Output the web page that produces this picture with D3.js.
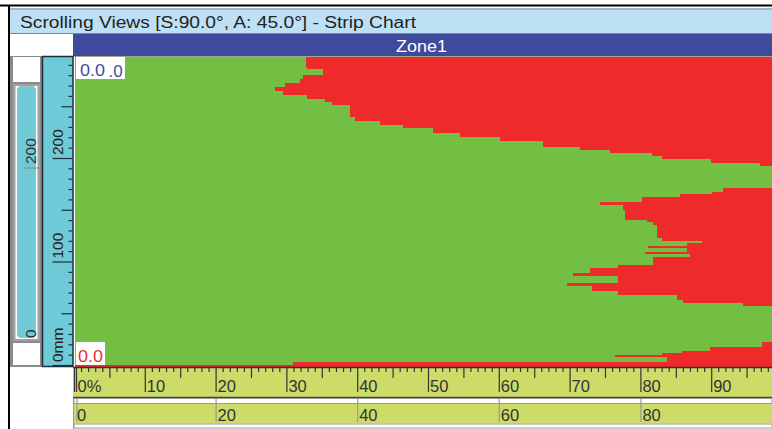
<!DOCTYPE html>
<html><head><meta charset="utf-8">
<script src="https://cdn.jsdelivr.net/npm/d3@7"></script>
<style>
html,body{margin:0;padding:0;background:#fff;overflow:hidden}
text{font-family:"Liberation Sans",Arial,sans-serif}
</style></head>
<body>
<svg id="c" width="772" height="429"></svg>
<script>
// ---- data ----
const title = "Scrolling Views [S:90.0°, A: 45.0°] - Strip Chart";
const zoneName = "Zone1";
// scan-axis edges (mm), top to bottom; row i spans scanEdges[i]..scanEdges[i+1]
const scanEdges = [297.6, 287.9, 286.0, 280.2, 276.3, 272.5, 268.6, 264.7, 260.9, 257.0,
  254.1, 251.2, 239.6, 235.7, 231.9, 229.0, 224.2, 220.3, 216.4, 210.6,
  207.7, 204.8, 201.9, 199.0, 195.2, 192.3, 171.0, 167.1, 165.2, 162.3,
  157.5, 154.6, 149.8, 140.1, 138.2, 135.3, 122.7, 119.8, 117.9, 115.0,
  113.0, 109.2, 107.2, 104.3, 96.6, 93.7, 88.9, 86.0, 79.2, 76.3,
  71.5, 67.6, 62.8, 59.9, 57.0, 22.2, 17.4, 13.5, 11.6, 9.7,
  7.7, 2.9, 0, -1.9];
// % position where the red (above threshold) region begins in each row; null = none
const redStart = [32.8, 32.9, 35.2, 32.3, 31.9, 29.8, 28.4, 29.5, 32.9, 35.5,
  36.4, 39.0, 39.7, 43.2, 46.5, 50.7, 54.5, 60.2, 66.2, 71.5,
  75.7, 81.6, 83.1, 90.0, 96.9, null, 91.7, 90.1, 85.6, 80.2,
  74.3, 77.5, 77.8, 80.9, 81.8, 82.3, 83.1, 88.7, 86.6, 81.1,
  86.6, 80.6, 87.0, 81.8, 76.8, 72.9, 70.5, 76.8, 69.6, 73.2,
  76.8, 85.2, 86.0, 94.5, null, 97.2, 89.8, 85.9, 83.1, 76.4,
  83.8, 30.9, 0];
const pctTicks = [0, 10, 20, 30, 40, 50, 60, 70, 80, 90];
const pctLabels = ["0%", "10", "20", "30", "40", "50", "60", "70", "80", "90"];
const indexTicks = [0, 20, 40, 60, 80];
const scanLabelTicks = [0, 100, 200];
const scanLabels = ["0mm", "100", "200"];
const scrollLabelTicks = [0, 200];
const cursorTop = "0.0";
const cursorTopSuffix = ".0";
const cursorBottom = "0.0";

// ---- colors ----
const C = {green:"#72bf44", red:"#ee2a2a", band:"#cddc68", cyan:"#6ecad6", titleBg:"#bde0f5",
  zone:"#3f4a9c", dark:"#1e2e3a", grey:"#8a8a8a"};

const svg = d3.select("#c");
const L = 75, R = 772, T = 56.5, B = 367;
const x = d3.scaleLinear().domain([0, 100]).range([74, 782]);
const y = d3.scaleLinear().domain([0, 300]).range([365, 54.5]);

// frame
svg.append("rect").attr("x",0).attr("y",0).attr("width",772).attr("height",429).attr("fill","#fff");
svg.append("rect").attr("x",10).attr("y",8).attr("width",762).attr("height",26).attr("fill",C.titleBg);
svg.append("line").attr("x1",10).attr("x2",772).attr("y1",9).attr("y2",9).attr("stroke","#9aa8b2").attr("stroke-width",1.5);
svg.append("line").attr("x1",10).attr("x2",772).attr("y1",33.5).attr("y2",33.5).attr("stroke","#6f86b8").attr("stroke-width",1);
svg.append("line").attr("x1",0).attr("x2",772).attr("y1",5.5).attr("y2",5.5).attr("stroke","#000").attr("stroke-width",2);
svg.append("line").attr("x1",9).attr("x2",9).attr("y1",5).attr("y2",429).attr("stroke","#000").attr("stroke-width",2);
svg.append("text").attr("x",20).attr("y",28).attr("font-size",16).attr("fill","#222")
  .attr("textLength",396).attr("lengthAdjust","spacingAndGlyphs").text(title);

// zone bar
svg.append("rect").attr("x",73).attr("y",34).attr("width",R-73).attr("height",22).attr("fill",C.zone);
svg.append("line").attr("x1",73).attr("x2",R).attr("y1",56).attr("y2",56).attr("stroke","#6b3a40").attr("stroke-width",1.2);
svg.append("text").attr("x",396).attr("y",51.5).attr("font-size",16.5).attr("fill","#fff")
  .attr("textLength",51).attr("lengthAdjust","spacingAndGlyphs").text(zoneName);

// plot
const defs = svg.append("defs");
defs.append("clipPath").attr("id","pc").append("rect").attr("x",L).attr("y",T).attr("width",R-L).attr("height",B-T);
const plot = svg.append("g").attr("clip-path","url(#pc)");
plot.append("rect").attr("x",L).attr("y",T).attr("width",R-L).attr("height",B-T).attr("fill",C.green);
const rows = redStart.map((v,i)=>({v, top:scanEdges[i], bot:scanEdges[i+1]})).filter(d=>d.v!==null);
plot.selectAll("rect.row").data(rows).enter().append("rect").attr("class","row")
  .attr("x",d=>Math.max(L, x(d.v)))
  .attr("y",d=>y(d.top))
  .attr("width",d=>R - Math.max(L, x(d.v)))
  .attr("height",d=>y(d.bot)-y(d.top))
  .attr("fill",C.red).attr("shape-rendering","crispEdges");

// cursor value boxes
svg.append("rect").attr("x",76).attr("y",57).attr("width",49).attr("height",22).attr("fill","#fff");
svg.append("text").attr("x",80).attr("y",76).attr("font-size",17).attr("fill","#3b4fa6")
  .attr("textLength",25).attr("lengthAdjust","spacingAndGlyphs").text(cursorTop);
svg.append("text").attr("x",108.5).attr("y",76.5).attr("font-size",17).attr("fill","#3b4fa6").text(cursorTopSuffix);
svg.append("rect").attr("x",76).attr("y",342).attr("width",29).attr("height",23).attr("fill","#fff");
svg.append("text").attr("x",78).attr("y",362).attr("font-size",17).attr("fill","#ee3030")
  .attr("textLength",25).attr("lengthAdjust","spacingAndGlyphs").text(cursorBottom);

// left scroll bar
svg.append("rect").attr("x",10).attr("y",56).attr("width",32).attr("height",311).attr("fill",C.grey);
svg.append("rect").attr("x",13).attr("y",57).attr("width",27).attr("height",25).attr("fill","#fff");
svg.append("rect").attr("x",13).attr("y",343).attr("width",27).attr("height",22).attr("fill","#fff");
svg.append("rect").attr("x",13).attr("y",84).attr("width",27).attr("height",257).attr("fill","#a0a0a0");
svg.append("rect").attr("x",15.5).attr("y",86).attr("width",22).attr("height",253).attr("fill","#fff");
svg.append("rect").attr("x",17.5).attr("y",86.5).attr("width",18).attr("height",251).attr("rx",3).attr("fill",C.cyan).attr("stroke","#8fb8c0").attr("stroke-width",0.8);
const ys = d3.scaleLinear().domain([0, 200]).range([338, 164]);
svg.selectAll("text.sl").data(scrollLabelTicks).enter().append("text").attr("class","sl")
  .attr("transform",d=>`translate(35.5,${ys(d)}) rotate(-90)`).attr("font-size",15.5).attr("fill","#333").text(d=>d);
svg.append("line").attr("x1",24).attr("x2",40).attr("y1",168).attr("y2",168).attr("stroke","#888").attr("stroke-width",1);

// scan ruler
svg.append("rect").attr("x",42.5).attr("y",56.5).attr("width",30.5).attr("height",310).attr("fill",C.cyan).attr("stroke",C.dark).attr("stroke-width",1.5);
const scanTicks = d3.range(0, 300, 10);
function vAxis(vals, size){
  const g = svg.append("g").attr("transform","translate(72.5,0)")
    .call(d3.axisLeft(y).tickValues(vals).tickSize(size).tickFormat(""));
  g.select(".domain").remove();
  g.selectAll("line").attr("stroke",C.dark).attr("stroke-width",1.2);
}
vAxis(scanTicks.filter(d=>d%50!==0), 4);
vAxis(scanTicks.filter(d=>d%50===0 && d%100!==0), 11);
vAxis(scanTicks.filter(d=>d%100===0), 20);
svg.selectAll("text.sc").data(scanLabelTicks).enter().append("text").attr("class","sc")
  .attr("transform",d=>`translate(62.5,${y(d)-3}) rotate(-90)`).attr("font-size",15.5).attr("fill","#222")
  .text((d,i)=>scanLabels[i]);

// percent axis band
svg.append("rect").attr("x",73).attr("y",367).attr("width",R-73).attr("height",30.5).attr("fill",C.band);
svg.append("line").attr("x1",73).attr("x2",R).attr("y1",367.5).attr("y2",367.5).attr("stroke","#333").attr("stroke-width",1.5);
svg.append("line").attr("x1",73).attr("x2",R).attr("y1",397.5).attr("y2",397.5).attr("stroke","#444").attr("stroke-width",1.5);
const pTicks = d3.range(1, 100, 1);
function hAxis(vals, size){
  const g = svg.append("g").attr("transform","translate(0,368)")
    .call(d3.axisBottom(x).tickValues(vals).tickSize(size).tickFormat(""));
  g.select(".domain").remove();
  g.selectAll("line").attr("stroke","#333").attr("stroke-width",1.2);
}
hAxis(pTicks.filter(d=>d%5!==0), 4);
hAxis(pTicks.filter(d=>d%5===0 && d%10!==0), 10);
hAxis(pctTicks, 24);
svg.selectAll("text.pl").data(pctTicks).enter().append("text").attr("class","pl")
  .attr("x",d=>Math.max(77.5, x(d)+2)).attr("y",392).attr("font-size",16.5).attr("fill","#333")
  .text((d,i)=>pctLabels[i]);
svg.append("line").attr("x1",76.5).attr("x2",76.5).attr("y1",368).attr("y2",392).attr("stroke","#333").attr("stroke-width",1.2);

// index axis band
svg.append("rect").attr("x",73).attr("y",398).attr("width",R-73).attr("height",31).attr("fill","#fff");
svg.append("rect").attr("x",74).attr("y",398.5).attr("width",R-74).attr("height",5).attr("fill","#fff").attr("stroke","#999").attr("stroke-width",1);
svg.append("rect").attr("x",74).attr("y",404).attr("width",R-74).attr("height",19.5).attr("fill",C.band);
svg.append("rect").attr("x",74).attr("y",424).attr("width",R-74).attr("height",4).attr("fill","#fff").attr("stroke","#999").attr("stroke-width",1);
svg.append("line").attr("x1",73.5).attr("x2",73.5).attr("y1",398).attr("y2",429).attr("stroke","#999");
const gi = svg.append("g").attr("transform","translate(0,399)")
  .call(d3.axisBottom(x).tickValues(indexTicks).tickSize(23).tickFormat(""));
gi.select(".domain").remove();
gi.selectAll("line").attr("stroke","#999").attr("stroke-width",1.2)
  .attr("transform",d=>d===0?"translate(2.5,0)":null);
svg.selectAll("text.il").data(indexTicks).enter().append("text").attr("class","il")
  .attr("x",d=>Math.max(77, x(d)+2)).attr("y",421).attr("font-size",16.5).attr("fill","#333").text(d=>d);
</script>
</body></html>
